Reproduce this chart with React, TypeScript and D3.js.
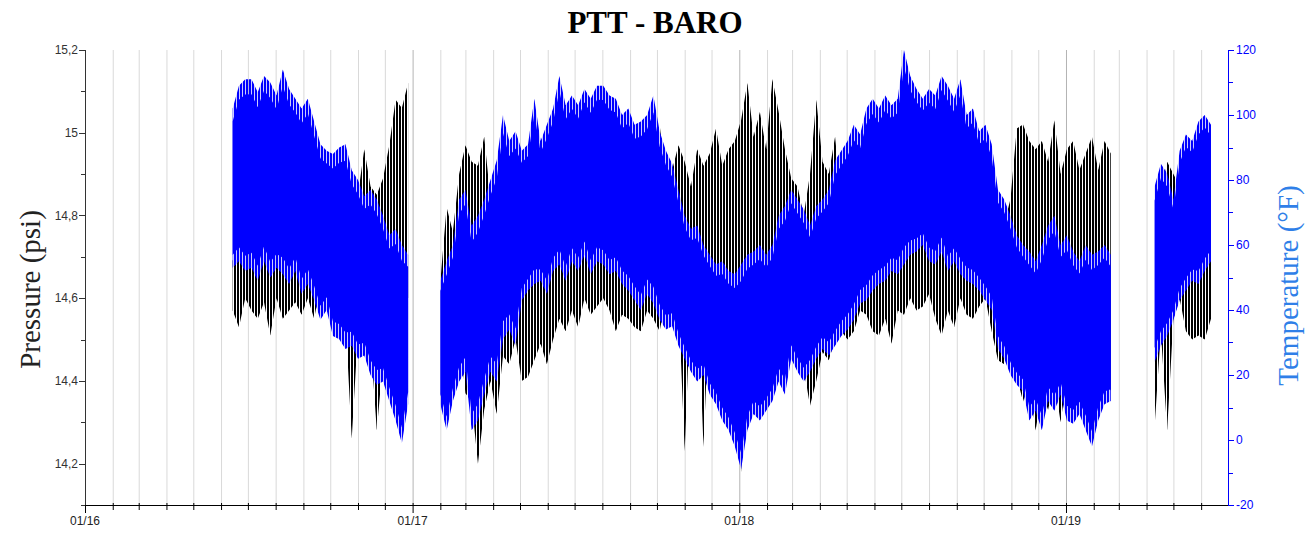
import React, { useEffect, useRef } from 'react';
import * as d3 from 'd3';

// weekly readings, [low, high] per week
const segStarts = ['2016-06-14', '2017-02-01', '2019-04-10'];

const tempSeg1 = [
  [53, 102], [55, 109], [52, 111], [53, 111], [49, 107], [55, 112], [50, 110], [53, 106], [51, 114], [48, 108],
  [52, 105], [45, 102], [48, 105], [43, 98], [37, 91], [40, 89], [32, 88], [31, 90], [28, 91], [29, 83],
  [25, 80], [26, 75], [20, 77], [17, 74], [18, 69], [12, 63], [6, 65], [-1, 60], [11, 57]
];
const presSeg1 = [
  [14.57, 14.69], [14.53, 14.76], [14.6, 14.74], [14.57, 14.75], [14.55, 14.72], [14.59, 14.76], [14.51, 14.73],
  [14.6, 14.75], [14.55, 14.76], [14.57, 14.72], [14.59, 14.74], [14.56, 14.76], [14.6, 14.7], [14.55, 14.78],
  [14.63, 14.84], [14.6, 14.87], [14.57, 14.91], [14.62, 14.93], [14.55, 14.95], [14.26, 14.9], [14.52, 14.85],
  [14.6, 14.96], [14.5, 14.87], [14.28, 14.85], [14.45, 14.89], [14.41, 14.97], [14.52, 15.08], [14.62, 15.06],
  [14.6, 15.12]
];

const tempSeg2 = [
  [11, 49], [3, 55], [12, 60], [18, 74], [21, 77], [3, 66], [6, 69], [14, 74], [21, 80], [18, 86],
  [31, 100], [34, 92], [29, 95], [43, 89], [46, 91], [48, 105], [49, 92], [45, 97], [52, 102], [54, 112],
  [49, 103], [55, 106], [52, 103], [57, 108], [51, 105], [55, 109], [54, 109], [51, 106], [52, 105], [48, 100],
  [46, 102], [43, 97], [40, 98], [45, 100], [42, 106], [37, 95], [34, 89], [35, 85], [29, 77], [25, 69],
  [21, 65], [18, 66], [20, 60], [14, 57], [11, 54], [6, 55], [3, 52], [-2, 51], [-9, 54], [3, 57],
  [8, 58], [6, 60], [9, 57], [12, 60], [18, 69], [14, 72], [25, 77], [21, 74], [18, 71], [21, 66],
  [25, 72], [28, 74], [26, 77], [29, 86], [32, 89], [34, 92], [37, 97], [42, 94], [43, 102], [46, 105],
  [48, 102], [49, 106], [52, 103], [51, 105], [54, 120], [57, 112], [58, 108], [60, 105], [55, 108], [54, 106],
  [58, 112], [52, 109], [55, 105], [51, 111], [49, 100], [48, 102], [46, 95], [43, 97], [40, 91], [28, 77],
  [25, 74], [20, 69], [17, 63], [15, 60], [6, 58], [9, 55], [3, 60], [12, 66], [9, 69], [14, 60],
  [6, 63], [5, 58], [8, 55], [3, 60], [-2, 57], [6, 58], [11, 60], [12, 57]
];
const presSeg2 = [
  [14.35, 14.64], [14.4, 14.82], [14.41, 14.76], [14.52, 14.9], [14.37, 14.97], [14.35, 14.93], [14.2, 14.92],
  [14.33, 14.99], [14.4, 14.84], [14.32, 14.73], [14.46, 14.75], [14.44, 14.69], [14.5, 14.7], [14.4, 14.67],
  [14.41, 14.72], [14.45, 14.68], [14.49, 14.7], [14.44, 14.69], [14.5, 14.72], [14.55, 14.73], [14.52, 14.74],
  [14.57, 14.75], [14.53, 14.76], [14.6, 14.74], [14.56, 14.77], [14.58, 14.75], [14.6, 14.74], [14.57, 14.76],
  [14.52, 14.78], [14.56, 14.74], [14.55, 14.73], [14.53, 14.75], [14.52, 14.72], [14.57, 14.74], [14.55, 14.76],
  [14.52, 15.02], [14.6, 14.88], [14.57, 14.91], [14.6, 14.97], [14.23, 14.93], [14.62, 14.87], [14.64, 14.96],
  [14.24, 14.92], [14.6, 14.95], [14.64, 15.01], [14.57, 14.92], [14.55, 14.96], [14.4, 14.98], [14.18, 15.03],
  [14.5, 15.12], [14.62, 14.99], [14.6, 15.05], [14.64, 14.96], [14.57, 15.13], [14.52, 15.05], [14.49, 14.96],
  [14.45, 14.89], [14.52, 14.87], [14.43, 14.8], [14.34, 14.9], [14.4, 15.08], [14.47, 14.93], [14.45, 14.9],
  [14.5, 14.99], [14.52, 14.84], [14.5, 14.76], [14.52, 14.73], [14.57, 14.72], [14.56, 14.75], [14.52, 14.7],
  [14.51, 14.74], [14.55, 14.73], [14.49, 14.72], [14.57, 14.74], [14.56, 14.8], [14.6, 14.81], [14.57, 14.79],
  [14.58, 14.82], [14.61, 14.78], [14.55, 14.8], [14.51, 14.81], [14.57, 14.76], [14.53, 14.79], [14.6, 14.78],
  [14.56, 14.92], [14.55, 15.01], [14.58, 14.96], [14.6, 14.91], [14.52, 14.93], [14.45, 14.8], [14.44, 14.78],
  [14.52, 14.84], [14.41, 15.01], [14.35, 15.02], [14.4, 14.98], [14.28, 14.96], [14.37, 14.98], [14.33, 14.93],
  [14.4, 15.03], [14.3, 14.9], [14.41, 14.96], [14.34, 14.98], [14.37, 14.91], [14.3, 14.95], [14.36, 14.99],
  [14.39, 14.91], [14.35, 14.98], [14.38, 14.95]
];

const tempSeg3 = [[24, 78], [29, 85], [32, 82], [37, 74], [43, 89], [46, 94], [49, 92], [48, 98], [52, 100], [55, 97]];
const presSeg3 = [
  [14.29, 14.77], [14.52, 14.84], [14.28, 14.93], [14.55, 14.9], [14.6, 14.87],
  [14.52, 14.76], [14.5, 14.73], [14.51, 14.69], [14.5, 14.7], [14.55, 14.72]
];

const pressureTicks = [14.1, 14.2, 14.3, 14.4, 14.5, 14.6, 14.7, 14.8, 14.9, 15, 15.1, 15.2];
const pressureLabels = [14.2, 14.4, 14.6, 14.8, 15, 15.2];
const tempTicks = [-20, -10, 0, 10, 20, 30, 40, 50, 60, 70, 80, 90, 100, 110, 120];
const tempLabels = [-20, 0, 20, 40, 60, 80, 100, 120];

const width = 1309;
const height = 534;
const margin = { top: 50, bottom: 29, left: 85, right: 81 };
const sans = '"Liberation Sans", Arial, sans-serif';
const serif = '"Liberation Serif", "Times New Roman", serif';

const DAY = 864e5;

const weekly = (start, weeks) =>
  weeks.map((w, k) => ({ date: new Date(start.getTime() + 7 * k * DAY), lo: w[0], hi: w[1] }));

const App = () => {
  const wrapper = useRef(null);

  useEffect(() => {
    const parse = d3.timeParse('%Y-%m-%d');
    const starts = segStarts.map(parse);
    const tempSegs = [tempSeg1, tempSeg2, tempSeg3].map((s, i) => weekly(starts[i], s));
    const presSegs = [presSeg1, presSeg2, presSeg3].map((s, i) => weekly(starts[i], s));

    const x = d3.scaleTime()
      .domain([new Date(2016, 0, 1), new Date(2019, 6, 1)])
      .range([margin.left, width - margin.right]);
    const yP = d3.scaleLinear().domain([14.1, 15.2]).range([height - margin.bottom, margin.top]);
    const yT = d3.scaleLinear().domain([-20, 120]).range([height - margin.bottom, margin.top]);

    d3.select(wrapper.current).selectAll('svg').remove();
    const svg = d3.select(wrapper.current)
      .append('svg')
      .attr('width', width)
      .attr('height', height)
      .style('position', 'absolute')
      .style('left', 0)
      .style('top', 0)
      .style('background', '#fff');

    const x0 = margin.left;
    const x1 = width - margin.right;
    const yb = height - margin.bottom;

    const defs = svg.append('defs');
    defs.append('clipPath').attr('id', 'plot-clip')
      .append('rect').attr('x', x0).attr('y', margin.top).attr('width', x1 - x0).attr('height', yb - margin.top);

    // dense hourly traces read as vertical hatching
    const hatch = (id, color, period, w) => {
      const p = defs.append('pattern')
        .attr('id', id)
        .attr('patternUnits', 'userSpaceOnUse')
        .attr('width', period)
        .attr('height', 10);
      p.append('rect').attr('x', 0).attr('y', 0).attr('width', w).attr('height', 10).attr('fill', color);
    };
    hatch('hatch-black', '#000', 3, 2);
    hatch('hatch-blue', '#0000ff', 3, 2.2);

    // monthly grid
    const months = d3.timeMonth.range(new Date(2016, 1, 1), new Date(2019, 6, 1));
    svg.append('g')
      .selectAll('line')
      .data(months)
      .join('line')
      .attr('x1', d => x(d) + 0.5)
      .attr('x2', d => x(d) + 0.5)
      .attr('y1', margin.top)
      .attr('y2', yb)
      .attr('stroke', d => d.getMonth() === 0 ? '#b4b4b4' : '#d9d9d9')
      .attr('stroke-width', 1);

    const plot = svg.append('g').attr('clip-path', 'url(#plot-clip)');

    const pArea = d3.area().x(d => x(d.date)).y0(d => yP(d.lo)).y1(d => yP(d.hi));
    const tArea = d3.area().x(d => x(d.date)).y0(d => yT(d.lo)).y1(d => yT(d.hi));
    // solid core of the temperature band, the outer fringe stays hatched
    const tCore = d3.area()
      .x(d => x(d.date))
      .y0(d => yT(d.lo + (d.hi - d.lo) * 0.08))
      .y1(d => yT(d.hi - (d.hi - d.lo) * 0.08));

    plot.selectAll('.pres')
      .data(presSegs)
      .join('path')
      .attr('class', 'pres')
      .attr('d', pArea)
      .attr('fill', 'url(#hatch-black)');

    plot.selectAll('.temp-fringe')
      .data(tempSegs)
      .join('path')
      .attr('class', 'temp-fringe')
      .attr('d', tArea)
      .attr('fill', 'url(#hatch-blue)');

    plot.selectAll('.temp')
      .data(tempSegs)
      .join('path')
      .attr('class', 'temp')
      .attr('d', tCore)
      .attr('fill', '#0000ff');

    // x axis
    const xAxis = svg.append('g');
    xAxis.append('line')
      .attr('x1', x0).attr('x2', x1).attr('y1', yb + 0.5).attr('y2', yb + 0.5)
      .attr('stroke', '#000');
    xAxis.selectAll('.mt')
      .data(months.filter(d => d.getMonth() !== 0))
      .join('line')
      .attr('x1', d => x(d) + 0.5).attr('x2', d => x(d) + 0.5)
      .attr('y1', yb - 2).attr('y2', yb + 5)
      .attr('stroke', '#000');
    const years = d3.timeYear.range(new Date(2016, 0, 1), new Date(2019, 6, 1));
    xAxis.selectAll('.yt')
      .data(years)
      .join('line')
      .attr('x1', d => x(d) + 0.5).attr('x2', d => x(d) + 0.5)
      .attr('y1', yb - 2).attr('y2', yb + 8)
      .attr('stroke', '#000');
    xAxis.selectAll('text')
      .data(years)
      .join('text')
      .attr('x', d => x(d))
      .attr('y', yb + 20)
      .attr('text-anchor', 'middle')
      .attr('font-family', sans)
      .attr('font-size', 12)
      .attr('fill', '#222')
      .text(d3.timeFormat('%m/%y'));

    // left axis
    const left = svg.append('g');
    left.append('line')
      .attr('x1', x0 + 0.5).attr('x2', x0 + 0.5).attr('y1', margin.top).attr('y2', yb)
      .attr('stroke', '#333');
    left.selectAll('line.t')
      .data(pressureTicks)
      .join('line')
      .attr('class', 't')
      .attr('x1', d => pressureLabels.includes(d) ? x0 - 6 : x0 - 4)
      .attr('x2', x0)
      .attr('y1', d => Math.round(yP(d)) + 0.5)
      .attr('y2', d => Math.round(yP(d)) + 0.5)
      .attr('stroke', '#333');
    left.selectAll('text')
      .data(pressureLabels)
      .join('text')
      .attr('x', x0 - 7)
      .attr('y', d => yP(d))
      .attr('dy', '0.35em')
      .attr('text-anchor', 'end')
      .attr('font-family', sans)
      .attr('font-size', 12)
      .attr('fill', '#333')
      .text(d => String(+d.toFixed(1)).replace('.', ','));

    // right axis
    const right = svg.append('g');
    right.append('line')
      .attr('x1', x1 + 0.5).attr('x2', x1 + 0.5).attr('y1', margin.top).attr('y2', yb)
      .attr('stroke', '#0000ff');
    right.selectAll('line.t')
      .data(tempTicks)
      .join('line')
      .attr('class', 't')
      .attr('x1', x1)
      .attr('x2', d => tempLabels.includes(d) ? x1 + 6 : x1 + 5)
      .attr('y1', d => Math.round(yT(d)) + 0.5)
      .attr('y2', d => Math.round(yT(d)) + 0.5)
      .attr('stroke', '#0000ff');
    right.selectAll('text')
      .data(tempLabels)
      .join('text')
      .attr('x', x1 + 8)
      .attr('y', d => yT(d))
      .attr('dy', '0.35em')
      .attr('font-family', sans)
      .attr('font-size', 12)
      .attr('fill', '#0000ff')
      .text(d => d);

    // titles
    svg.append('text')
      .attr('x', 655)
      .attr('y', 33)
      .attr('text-anchor', 'middle')
      .attr('font-family', serif)
      .attr('font-weight', 'bold')
      .attr('font-size', 31)
      .attr('fill', '#000')
      .text('PTT - BARO');

    svg.append('text')
      .attr('transform', `translate(40, ${(margin.top + yb) / 2 + 12}) rotate(-90)`)
      .attr('text-anchor', 'middle')
      .attr('font-family', serif)
      .attr('font-size', 29)
      .attr('fill', '#222')
      .text('Pressure (psi)');

    svg.append('text')
      .attr('transform', `translate(1298, ${(margin.top + yb) / 2 + 8}) rotate(-90)`)
      .attr('text-anchor', 'middle')
      .attr('font-family', serif)
      .attr('font-size', 29)
      .attr('fill', '#2f7fe8')
      .text('Temperature (°F)');
  }, []);

  return <div ref={wrapper} />;
};

export default App;
